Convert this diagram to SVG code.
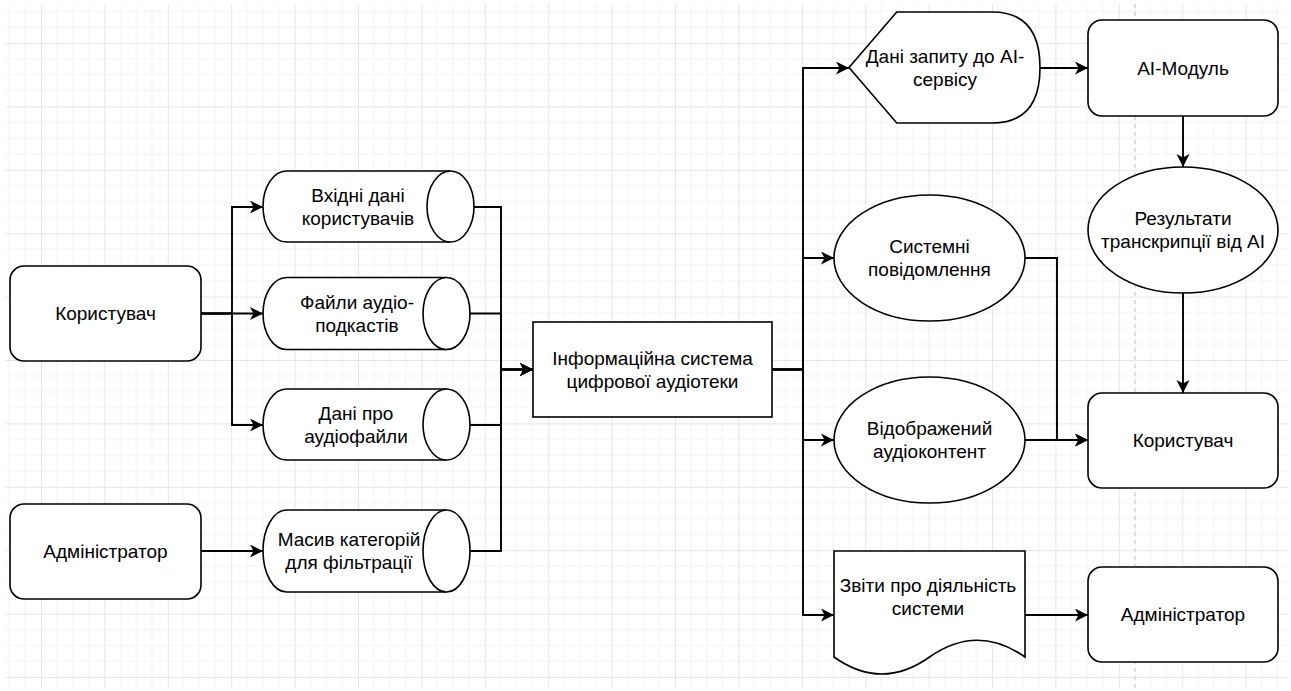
<svg xmlns="http://www.w3.org/2000/svg" width="1291" height="691" viewBox="0 0 1291 691">
  <defs>
    <pattern id="grid" patternUnits="userSpaceOnUse" x="41" y="43" width="63.4" height="63.4">
      <path d="M15.85,0 V63.4 M31.7,0 V63.4 M47.55,0 V63.4 M0,15.85 H63.4 M0,31.7 H63.4 M0,47.55 H63.4" stroke="#f3f3f3" stroke-width="1" fill="none"/>
      <path d="M0.5,0 V63.4 M0,0.5 H63.4" stroke="#e6e6e6" stroke-width="1" fill="none"/>
    </pattern>
    <marker id="arrow" markerUnits="userSpaceOnUse" markerWidth="14" markerHeight="14" refX="13" refY="6.5" orient="auto">
      <path d="M0,0 L13,6.5 L0,13 L3.5,6.5 Z" fill="#000"/>
    </marker>
    <style>
      .shape { fill: #ffffff; stroke: #000000; stroke-width: 1.6; }
      .edge { fill: none; stroke: #000000; stroke-width: 1.9; }
      .arr { marker-end: url(#arrow); }
      text { font-family: "Liberation Sans", Arial, sans-serif; font-size: 19px; fill: #000000; text-anchor: middle; }
    </style>
  </defs>

  <rect x="0" y="0" width="1291" height="691" fill="#ffffff"/>
  <rect x="5" y="4" width="1282" height="684" fill="url(#grid)"/>
  <line x1="1135" y1="4" x2="1135" y2="688" stroke="#c4c4c4" stroke-width="1" stroke-dasharray="4,4"/>

  <g id="connectors">
    <path class="edge arr" d="M201,313.5 H232 V207 H263"/>
    <path class="edge arr" d="M201,313.5 H263"/>
    <path class="edge arr" d="M201,313.5 H232 V425 H263"/>
    <path class="edge arr" d="M201,551 H263"/>
    <path class="edge arr" d="M474,207 H501 V369.5 H533"/>
    <path class="edge arr" d="M470,313.5 H501 V369.5 H533"/>
    <path class="edge arr" d="M470,425 H501 V369.5 H533"/>
    <path class="edge arr" d="M470,551 H501 V369.5 H533"/>
    <path class="edge arr" d="M772,369.5 H803 V68 H849"/>
    <path class="edge arr" d="M772,369.5 H803 V258 H834"/>
    <path class="edge arr" d="M772,369.5 H803 V440 H834"/>
    <path class="edge arr" d="M772,369.5 H803 V615 H834"/>
    <path class="edge arr" d="M1040,68 H1088"/>
    <path class="edge arr" d="M1183,116 V167"/>
    <path class="edge arr" d="M1183,293 V393"/>
    <path class="edge arr" d="M1025,258 H1057 V440 H1088"/>
    <path class="edge arr" d="M1025,440 H1088"/>
    <path class="edge arr" d="M1025,615 H1088"/>
  </g>

  <g id="user-left">
    <rect class="shape" x="10" y="266" width="191" height="95" rx="14" ry="14"/>
    <text x="105.5" y="320.2">Користувач</text>
  </g>

  <g id="admin-left">
    <rect class="shape" x="10" y="504" width="191" height="95" rx="14" ry="14"/>
    <text x="105.5" y="558.2">Адміністратор</text>
  </g>

  <g id="input-data">
    <path class="shape" d="M286.5,171 H450.5 A23.5,35.5 0 0 1 450.5,242 H286.5 A23.5,35.5 0 0 1 286.5,171 Z"/>
    <path class="shape" fill="none" d="M450.5,171 A23.5,35.5 0 0 0 450.5,242"/>
    <text x="358" y="201.8">Вхідні дані</text>
    <text x="358" y="224.6">користувачів</text>
  </g>

  <g id="podcast-files">
    <path class="shape" d="M286.5,277.5 H446.5 A23.5,36 0 0 1 446.5,349.5 H286.5 A23.5,36 0 0 1 286.5,277.5 Z"/>
    <path class="shape" fill="none" d="M446.5,277.5 A23.5,36 0 0 0 446.5,349.5"/>
    <text x="357" y="308.8">Файли аудіо-</text>
    <text x="357" y="331.6">подкастів</text>
  </g>

  <g id="audio-info">
    <path class="shape" d="M286.5,389 H446.5 A23.5,35.5 0 0 1 446.5,460 H286.5 A23.5,35.5 0 0 1 286.5,389 Z"/>
    <path class="shape" fill="none" d="M446.5,389 A23.5,35.5 0 0 0 446.5,460"/>
    <text x="356" y="419.8">Дані про</text>
    <text x="356" y="442.6">аудіофайли</text>
  </g>

  <g id="categories">
    <path class="shape" d="M286.5,510 H446.5 A23.5,41 0 0 1 446.5,592 H286.5 A23.5,41 0 0 1 286.5,510 Z"/>
    <path class="shape" fill="none" d="M446.5,510 A23.5,41 0 0 0 446.5,592"/>
    <text x="349" y="546.3">Масив категорій</text>
    <text x="349" y="569.1">для фільтрації</text>
  </g>

  <g id="system">
    <rect class="shape" x="533" y="322" width="239" height="95"/>
    <text x="652.5" y="364.8">Інформаційна система</text>
    <text x="652.5" y="387.6">цифрової аудіотеки</text>
  </g>

  <g id="ai-request">
    <path class="shape" d="M849,67.5 L896.75,12 H992.25 Q1040,12 1040,67.5 Q1040,123 992.25,123 H896.75 Z"/>
    <text x="945" y="62.8">Дані запиту до AI-</text>
    <text x="945" y="85.6">сервісу</text>
  </g>

  <g id="ai-module">
    <rect class="shape" x="1088" y="20" width="190" height="96" rx="14" ry="14"/>
    <text x="1183" y="74.7">AI-Модуль</text>
  </g>

  <g id="transcription">
    <ellipse class="shape" cx="1183" cy="230" rx="95" ry="63"/>
    <text x="1183" y="225.3">Результати</text>
    <text x="1183" y="248.1">транскрипції від AI</text>
  </g>

  <g id="messages">
    <ellipse class="shape" cx="929.5" cy="258" rx="95.5" ry="63"/>
    <text x="929.5" y="253.3">Системні</text>
    <text x="929.5" y="276.1">повідомлення</text>
  </g>

  <g id="content">
    <ellipse class="shape" cx="929.5" cy="440" rx="95.5" ry="63"/>
    <text x="929.5" y="435.3">Відображений</text>
    <text x="929.5" y="458.1">аудіоконтент</text>
  </g>

  <g id="user-right">
    <rect class="shape" x="1088" y="393" width="190" height="95" rx="14" ry="14"/>
    <text x="1183" y="447.2">Користувач</text>
  </g>

  <g id="reports">
    <path class="shape" d="M834,551 H1025 V657 Q977.25,623.5 929.5,657 Q881.75,691 834,657 Z"/>
    <text x="928" y="591.7">Звіти про діяльність</text>
    <text x="928" y="614.5">системи</text>
  </g>

  <g id="admin-right">
    <rect class="shape" x="1088" y="567" width="190" height="95" rx="14" ry="14"/>
    <text x="1183" y="621.2">Адміністратор</text>
  </g>
</svg>
